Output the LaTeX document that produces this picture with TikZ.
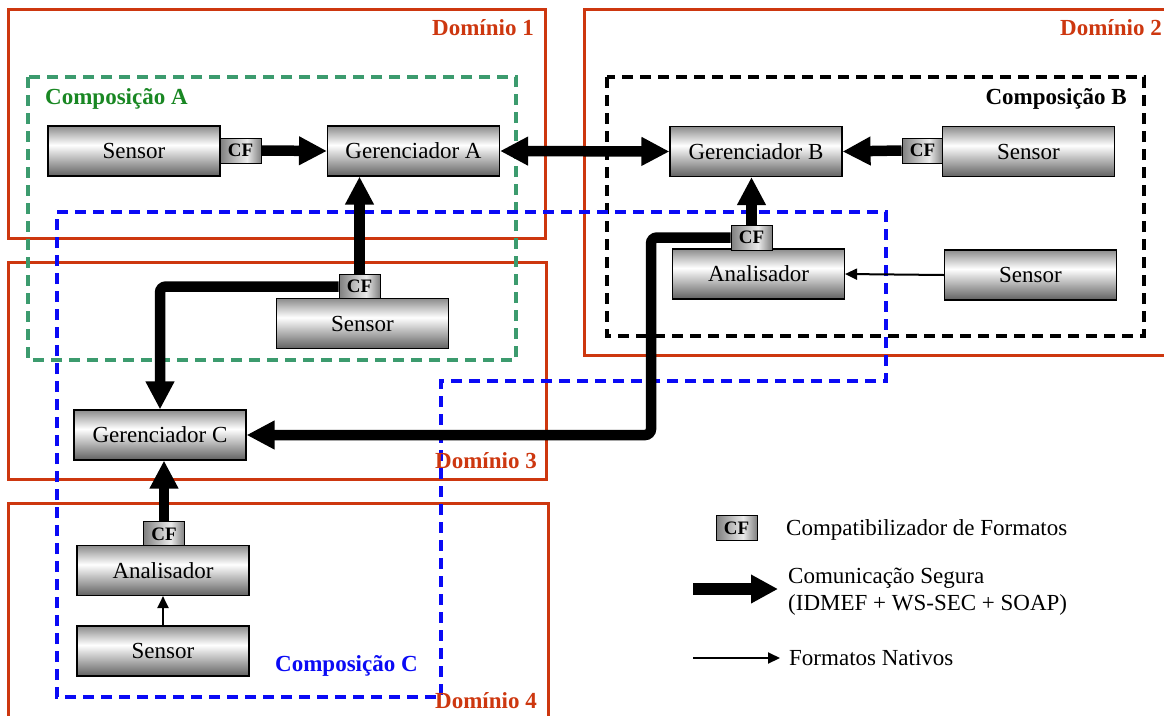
\documentclass[tikz,border=0pt]{standalone}
\usepackage{fontspec}
\setmainfont{Liberation Serif}
\usetikzlibrary{arrows.meta}

\definecolor{domred}{RGB}{205,55,15}
\definecolor{compgreen}{RGB}{60,155,110}
\definecolor{compgreentext}{RGB}{25,135,35}
\definecolor{compblue}{RGB}{10,10,245}
\definecolor{bxtop}{gray}{0.55}
\definecolor{bxbot}{gray}{0.38}
\definecolor{cfedge}{gray}{0.50}
\definecolor{cfmid}{gray}{0.92}

% metallic fill of the component boxes (vertical) and of the CF adapters (horizontal)
\pgfdeclareverticalshading{boxshade}{100bp}{color(0bp)=(bxbot); color(25bp)=(bxbot); color(56bp)=(white); color(75bp)=(bxtop); color(100bp)=(bxtop)}
\pgfdeclarehorizontalshading{cfshade}{100bp}{color(0bp)=(cfedge); color(25bp)=(cfedge); color(58bp)=(cfmid); color(75bp)=(cfedge); color(100bp)=(cfedge)}

\newcommand{\bodyfont}{\fontsize{23}{27}\selectfont}

\tikzset{
  unit/.style={draw=black, line width=1.1pt, shading=boxshade, minimum width=172pt,
    minimum height=50pt, inner sep=0pt, font=\bodyfont},
  cfbox/.style={draw=black, line width=0.9pt, shading=cfshade, minimum width=41pt,
    minimum height=25pt, inner sep=0pt, font=\fontsize{19}{19}\selectfont\bfseries},
  secure/.style={line width=10.5pt, -{Triangle[length=28pt,width=27pt]}},
  secureboth/.style={line width=10.5pt, {Triangle[length=28pt,width=27pt]}-{Triangle[length=28pt,width=27pt]}},
  native/.style={line width=2pt, -{Triangle[length=12pt,width=11pt]}},
  domframe/.style={draw=domred, line width=3pt},
  domlabel/.style={text=domred, font=\bodyfont\bfseries, anchor=base east, inner sep=0pt},
  compframe/.style={line width=3.2pt, dash pattern=on 11pt off 7pt},
  complabel/.style={font=\bodyfont\bfseries, inner sep=0pt},
  legendtext/.style={font=\bodyfont, inner sep=0pt}
}

\begin{document}
\begin{tikzpicture}[x=1pt, y=-1pt]
\useasboundingbox (0,0) rectangle (1164,715);
\clip (0,0) rectangle (1164,715);

% administrative domains
\draw[domframe] (8,9) rectangle (545,238);
\draw[domframe] (584,9) rectangle (1180,355);
\draw[domframe] (8,262) rectangle (546,479);
\draw[domframe] (8,503) rectangle (548,730);

% compositions
\draw[compframe, draw=compgreen] (28,77) rectangle (516,360);
\draw[compframe, draw=black] (607,77) rectangle (1144,336);
\draw[compframe, draw=compblue] (57,212) -- (886,212) -- (886,381) -- (441,381) -- (441,697) -- (57,697) -- cycle;

% components
\node[unit] (sA1) at (134,151) {Sensor};
\node[cfbox] (cfA1) at (240.5,150.5) {CF};
\node[unit] (gA) at (413.5,151) {Gerenciador A};

\node[unit] (gB) at (756,151.5) {Gerenciador B};
\node[cfbox] (cfB1) at (922.5,150.5) {CF};
\node[unit] (sB1) at (1028.5,151.5) {Sensor};
\node[unit] (aB) at (758.5,274) {Analisador};
\node[cfbox] (cfB2) at (751.5,237.5) {CF};
\node[unit] (sB2) at (1030.5,275) {Sensor};

\node[cfbox] (cfA2) at (359.5,286.5) {CF};
\node[unit] (sA2) at (362.5,323.5) {Sensor};

\node[unit] (gC) at (160,435) {Gerenciador C};
\node[cfbox] (cfC) at (164,534) {CF};
\node[unit] (aC) at (163,570.5) {Analisador};
\node[unit] (sC) at (163,651) {Sensor};

% secure links
\draw[secure] (cfA1.east) -- (gA.west);
\draw[secureboth] (gA.east) -- (gB.west);
\draw[secure] (cfB1.west) -- (gB.east);
\draw[secure] (cfB2.north) -- (cfB2.north |- gB.south);
\draw[secure] (cfA2.north) -- (cfA2.north |- gA.south);
\draw[secure, rounded corners=6pt] (cfA2.west) -| (gC.north);
\coordinate (turnB) at (651,237.5);
\draw[secure, rounded corners=6pt] (cfB2.west) -- (turnB) -- (turnB |- gC.east) -- (gC.east);
\draw[secure] (cfC.north) -- (cfC.north |- gC.south);

% native links
\draw[native] (sB2.west) -- (aB.east);
\draw[native] (sC.north) -- (aC.south);

% labels of the regions
\node[domlabel] (d1) at (534,35.5) {Domínio 1};
\node[domlabel] (d2) at (1162,35.5) {Domínio 2};
\node[domlabel] (d3) at (537,468) {Domínio 3};
\node[domlabel] (d4) at (537,708) {Domínio 4};
\node[complabel, text=compgreentext, anchor=base west] (cA) at (45,104) {Composição A};
\node[complabel, text=black, anchor=base east] (cB) at (1127,104) {Composição B};
\node[complabel, text=compblue, anchor=base west] (cC) at (275,671) {Composição C};

% legend
\node[cfbox] (lcf) at (736.5,528) {CF};
\node[legendtext, anchor=base west] (lcft) at (786,535) {Compatibilizador de Formatos};
\coordinate (ls1) at (693,589);
\coordinate (ls2) at (778,589);
\draw[line width=12pt, -{Triangle[length=27pt,width=27pt]}] (ls1) -- (ls2);
\node[legendtext, anchor=west, align=left] (lst) at (788,592) {Comunicação Segura\\(IDMEF + WS-SEC + SOAP)};
\coordinate (ln1) at (693,658);
\coordinate (ln2) at (780,658);
\draw[native] (ln1) -- (ln2);
\node[legendtext, anchor=base west] (lnt) at (789,665) {Formatos Nativos};
\end{tikzpicture}
\end{document}
